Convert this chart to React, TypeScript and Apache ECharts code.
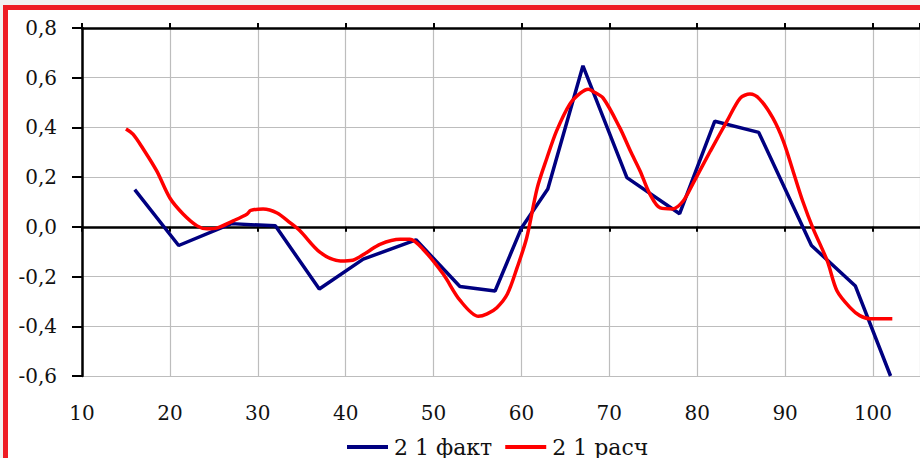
import React, { useEffect, useRef } from "react";
import * as echarts from "echarts";

const factX = [16, 21, 27, 32, 37, 42, 48, 53, 57, 60, 63, 67, 72, 78, 82, 87, 93, 98, 102];
const factY = [0.15, -0.075, 0.013, 0.004, -0.25, -0.13, -0.052, -0.24, -0.258, -0.005, 0.152, 0.648, 0.198, 0.053, 0.425, 0.38, -0.075, -0.238, -0.6];

const calcX = [15.0, 15.8, 16.9, 18.5, 20.0, 21.5, 23.1, 24.2, 25.4, 27.2, 28.8, 29.2, 30.6, 32.2, 33.7, 34.8, 37.1, 39.4, 40.8, 42.4, 43.9, 46.2, 47.3, 48.8, 51.1, 53.0, 55.1, 56.1, 57.2, 58.4, 59.5, 60.6, 61.8, 62.9, 64.0, 65.5, 66.7, 67.6, 68.1, 69.3, 71.2, 72.4, 73.5, 74.6, 75.8, 77.2, 78.4, 79.5, 81.5, 83.4, 84.9, 86.0, 87.1, 88.6, 89.8, 90.9, 92.0, 93.2, 94.8, 95.9, 97.4, 98.5, 99.7, 102.2];
const calcY = [0.394, 0.373, 0.317, 0.225, 0.116, 0.052, 0.004, -0.008, -0.004, 0.024, 0.052, 0.066, 0.072, 0.056, 0.016, -0.016, -0.103, -0.137, -0.134, -0.103, -0.07, -0.05, -0.05, -0.09, -0.19, -0.295, -0.36, -0.35, -0.325, -0.27, -0.165, -0.044, 0.157, 0.277, 0.386, 0.494, 0.538, 0.554, 0.546, 0.518, 0.398, 0.305, 0.225, 0.133, 0.076, 0.072, 0.104, 0.173, 0.305, 0.426, 0.518, 0.534, 0.514, 0.438, 0.345, 0.225, 0.104, -0.008, -0.137, -0.257, -0.325, -0.357, -0.37, -0.37];

const seriesNames = ["2 1 факт", "2 1 расч"];
const yTicks = { min: -0.6, max: 0.8, interval: 0.2 };
const xTicks = { min: 10, max: 105.35, interval: 10 };

const FONT = "DejaVu Serif";

export default function App() {
  const ref = useRef<HTMLDivElement>(null);
  useEffect(() => {
    if (!ref.current) return;
    const chart = echarts.init(ref.current, null, { renderer: "svg" });
    const fact = factX.map((x, i) => [x, factY[i]]);
    const calc = calcX.map((x, i) => [x, calcY[i]]);
    const gridLine = { show: true, lineStyle: { color: "#bdbdbd", width: 1.2 } };
    chart.setOption({
      animation: false,
      grid: { left: 82, top: 28, right: 0, bottom: 82, containLabel: false, outerBoundsMode: "none" },
      xAxis: [
        {
          type: "value",
          position: "bottom",
          min: xTicks.min,
          max: xTicks.max,
          interval: xTicks.interval,
          axisLine: { show: true, onZero: true, lineStyle: { color: "#000", width: 2.5 } },
          axisTick: { show: true, inside: false, length: 5, lineStyle: { color: "#000", width: 2 } },
          axisLabel: {
            show: true,
            margin: 27,
            showMaxLabel: false,
            color: "#111",
            fontFamily: FONT,
            fontSize: 20,
          },
          splitLine: gridLine,
        },
        {
          type: "value",
          position: "top",
          min: xTicks.min,
          max: xTicks.max,
          interval: xTicks.interval,
          axisLine: { show: true, onZero: true, lineStyle: { color: "#000", width: 2.5 } },
          axisTick: { show: true, inside: false, length: 5, lineStyle: { color: "#000", width: 2 } },
          axisLabel: { show: false },
          splitLine: { show: false },
        },
      ],
      yAxis: {
        type: "value",
        min: yTicks.min,
        max: yTicks.max,
        interval: yTicks.interval,
        axisLine: { show: true, onZero: false, lineStyle: { color: "#000", width: 2.5 } },
        axisTick: { show: true, inside: false, length: 10, lineStyle: { color: "#000", width: 2 } },
        axisLabel: {
          margin: 25,
          color: "#111",
          fontFamily: FONT,
          fontSize: 20,
          formatter: (v: number) => v.toFixed(1).replace(".", ",").replace("-0,0", "0,0"),
        },
        splitLine: gridLine,
      },
      legend: {
        left: 342,
        top: 430,
        icon: "rect",
        itemWidth: 41,
        itemHeight: 4,
        itemGap: 13,
        textStyle: { fontFamily: FONT, fontSize: 22, lineHeight: 24, color: "#111", padding: [0, 0, 0, 1] },
        data: seriesNames,
      },
      series: [
        {
          name: seriesNames[0],
          type: "line",
          xAxisIndex: 0,
          data: fact,
          symbol: "none",
          color: "#000080",
          lineStyle: { color: "#000080", width: 3.5 },
          z: 3,
        },
        {
          name: seriesNames[1],
          type: "line",
          xAxisIndex: 0,
          data: calc,
          symbol: "none",
          smooth: 0.3,
          color: "#ff0000",
          lineStyle: { color: "#ff0000", width: 3.5 },
          z: 4,
        },
      ],
    });
    return () => chart.dispose();
  }, []);
  return (
    <div style={{ position: "fixed", left: 0, top: 0, width: 920, height: 458, background: "#f1f1f1", overflow: "hidden" }}>
      <div
        style={{
          position: "absolute",
          left: 3,
          top: 5,
          width: 917,
          height: 453,
          background: "#fff",
          borderTop: "5px solid #ee1c24",
          borderLeft: "5px solid #ee1c24",
          boxSizing: "border-box",
        }}
      />
      <div ref={ref} style={{ position: "absolute", left: 0, top: 0, width: 920, height: 458 }} />
    </div>
  );
}
